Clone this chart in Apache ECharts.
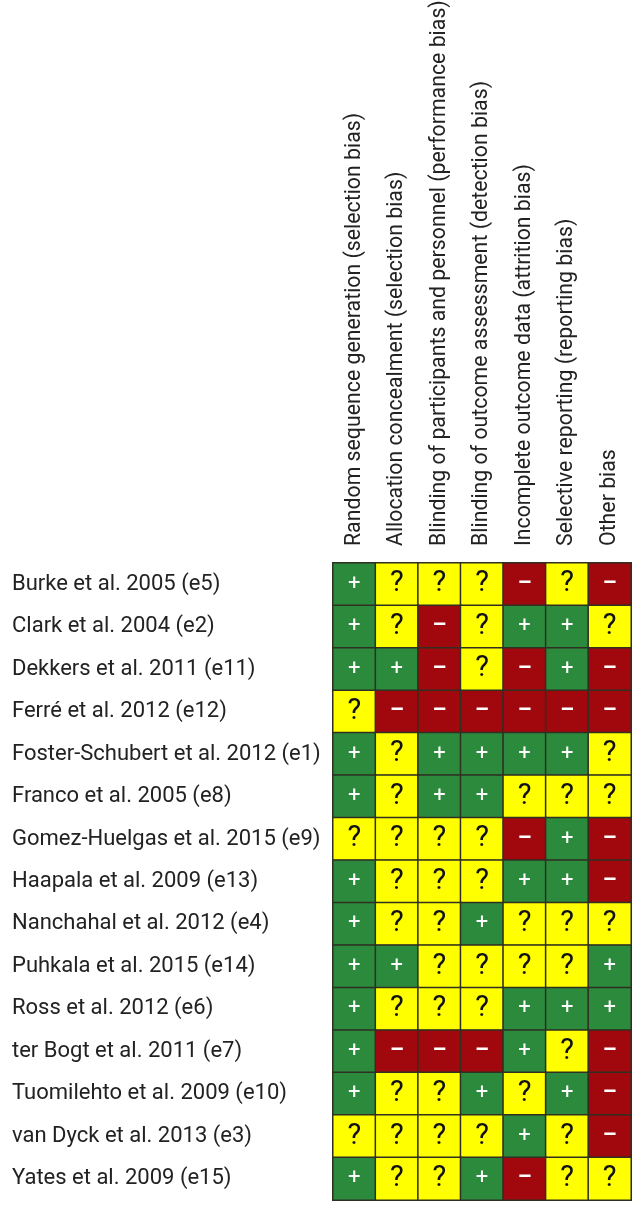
<!DOCTYPE html>
<html><head><meta charset="utf-8">
<script src="https://cdn.jsdelivr.net/npm/echarts@6/dist/echarts.min.js"></script>
<style>html,body{margin:0;padding:0;background:#fff}#c{width:644px;height:1212px}</style>
</head><body><div id="c"></div>
<script>
const domains = [
  'Random sequence generation (selection bias)',
  'Allocation concealment (selection bias)',
  'Blinding of participants and personnel (performance bias)',
  'Blinding of outcome assessment (detection bias)',
  'Incomplete outcome data (attrition bias)',
  'Selective reporting (reporting bias)',
  'Other bias'
];
const studies = [
  'Burke et al. 2005 (e5)',
  'Clark et al. 2004 (e2)',
  'Dekkers et al. 2011 (e11)',
  'Ferré et al. 2012 (e12)',
  'Foster-Schubert et al. 2012 (e1)',
  'Franco et al. 2005 (e8)',
  'Gomez-Huelgas et al. 2015 (e9)',
  'Haapala et al. 2009 (e13)',
  'Nanchahal et al. 2012 (e4)',
  'Puhkala et al. 2015 (e14)',
  'Ross et al. 2012 (e6)',
  'ter Bogt et al. 2011 (e7)',
  'Tuomilehto et al. 2009 (e10)',
  'van Dyck et al. 2013 (e3)',
  'Yates et al. 2009 (e15)'
];
// '+' low risk, '?' unclear, '-' high risk
const ratings = [
  ['+','?','?','?','-','?','-'],
  ['+','?','-','?','+','+','?'],
  ['+','+','-','?','-','+','-'],
  ['?','-','-','-','-','-','-'],
  ['+','?','+','+','+','+','?'],
  ['+','?','+','+','?','?','?'],
  ['?','?','?','?','-','+','-'],
  ['+','?','?','?','+','+','-'],
  ['+','?','?','+','?','?','?'],
  ['+','+','?','?','?','?','+'],
  ['+','?','?','?','+','+','+'],
  ['+','-','-','-','+','?','-'],
  ['+','?','?','+','?','+','-'],
  ['?','?','?','?','+','?','-'],
  ['+','?','?','+','-','?','?']
];
const codeOf = {'+':0,'?':1,'-':2};
const symOf = ['{p|+}','{q|?}','{m|–}'];

const data = [];
ratings.forEach((row, r) => row.forEach((s, c) => data.push([c, r, codeOf[s]])));

const chart = echarts.init(document.getElementById('c'), null, {renderer:'canvas'});
const FONT = 'Roboto, "Liberation Sans", Arial, sans-serif';
chart.setOption({
  animation:false,
  grid:{left:333, right:13, top:563, bottom:12, containLabel:false, outerBoundsMode:'none'},
  xAxis:{
    type:'category', data:domains, position:'top',
    axisLine:{show:false}, axisTick:{show:false}, splitLine:{show:false},
    axisLabel:{rotate:-90, margin:17, interval:0, color:'#222', fontSize:21.3, fontFamily:FONT}
  },
  yAxis:{
    type:'category', data:studies, inverse:true,
    axisLine:{show:false}, axisTick:{show:false}, splitLine:{show:false},
    axisLabel:{align:'left', margin:321, interval:0, color:'#222', fontSize:22, fontFamily:FONT}
  },
  visualMap:{
    type:'piecewise', show:false, dimension:2,
    pieces:[{value:0,color:'#2b8a3c'},{value:1,color:'#ffff00'},{value:2,color:'#a1080d'}]
  },
  series:[{
    type:'heatmap', data:data,
    itemStyle:{borderColor:'#2f2f22', borderWidth:1.5},
    label:{
      show:true,
      formatter:p => symOf[p.value[2]],
      rich:{
        p:{color:'#fff', fontSize:22, fontFamily:FONT},
        q:{color:'#111', fontSize:29, fontFamily:FONT},
        m:{color:'#fff', fontSize:22, fontWeight:'bold', fontFamily:FONT}
      }
    }
  }]
});
</script></body></html>
